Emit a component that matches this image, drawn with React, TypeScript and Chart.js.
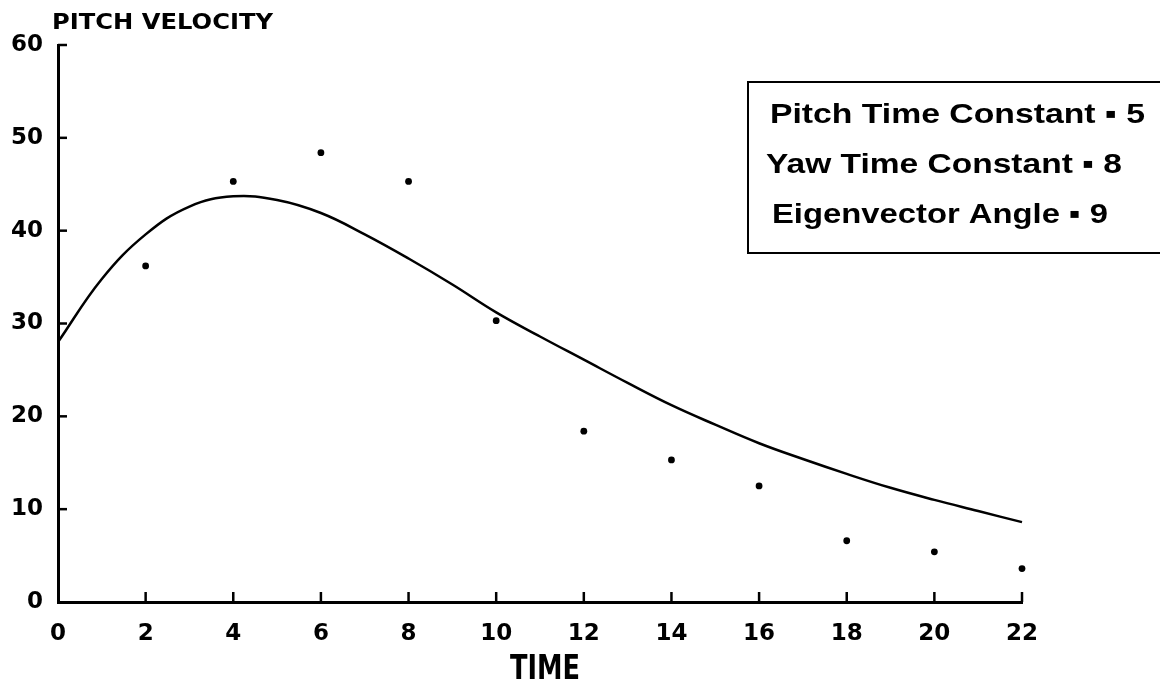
import React, { useEffect, useRef } from "react";
import { Chart, registerables } from "chart.js";

Chart.register(...registerables);

const pointTimes = [2, 4, 6, 8, 10, 12, 14, 16, 18, 20, 22];
const pointValues = [36.2, 45.3, 48.4, 45.3, 30.3, 18.4, 15.3, 12.5, 6.6, 5.4, 3.6];

const curveTimes = [0, 1, 2, 3, 4, 5, 6, 7, 8, 9, 10, 11, 12, 13, 14, 15, 16, 17, 18, 19, 20, 21, 22];
const curveValues = [28.0, 34.8, 39.6, 42.6, 43.7, 43.3, 41.9, 39.6, 37.0, 34.2, 31.2, 28.6, 26.1, 23.6, 21.2, 19.1, 17.1, 15.4, 13.8, 12.3, 11.0, 9.8, 8.6];

const xTicks = [0, 2, 4, 6, 8, 10, 12, 14, 16, 18, 20, 22];
const yTicks = [0, 10, 20, 30, 40, 50, 60];

const yAxisTitle = "PITCH VELOCITY";
const xAxisTitle = "TIME";
const legendLines = ["Pitch Time Constant \u25AA 5", "Yaw Time Constant \u25AA 8", "Eigenvector Angle \u25AA 9"];

const TICK_FONT = "'DejaVu Sans', sans-serif";
const TEXT_FONT = "'Liberation Sans', Arial, sans-serif";

function fitText(ctx: any, text: string, x: number, y: number, width: number, align: "left" | "center") {
  const w = ctx.measureText(text).width;
  const sx = width / w;
  ctx.save();
  const left = align === "left" ? x : x - width / 2;
  ctx.translate(left, y);
  ctx.scale(sx, 1);
  ctx.textAlign = "left";
  ctx.fillText(text, 0, 0);
  ctx.restore();
}

const decorPlugin = {
  id: "decor",
  afterDraw(chart: any) {
    const ctx = chart.ctx;
    const xs = chart.scales.x;
    const ys = chart.scales.y;
    ctx.save();
    ctx.strokeStyle = "#000";
    ctx.lineWidth = 2.5;
    xTicks.forEach((t) => {
      if (t === 0) return;
      const px = xs.getPixelForValue(t);
      ctx.beginPath();
      ctx.moveTo(px, ys.bottom);
      ctx.lineTo(px, ys.bottom - 10);
      ctx.stroke();
    });
    yTicks.forEach((t) => {
      if (t === 0) return;
      const py = ys.getPixelForValue(t);
      ctx.beginPath();
      ctx.moveTo(xs.left, py);
      ctx.lineTo(xs.left + 9, py);
      ctx.stroke();
    });
    ctx.fillStyle = "#000";
    ctx.textBaseline = "alphabetic";
    ctx.font = `bold 22px ${TICK_FONT}`;
    fitText(ctx, yAxisTitle, 52, 29, 221, "left");
    ctx.font = `bold 34px ${TICK_FONT}`;
    fitText(ctx, xAxisTitle, 545, 679, 70, "center");
    ctx.lineWidth = 2;
    ctx.strokeRect(748, 82, 430, 171);
    ctx.font = `bold 28px ${TEXT_FONT}`;
    fitText(ctx, legendLines[0], 770, 123, 375, "left");
    fitText(ctx, legendLines[1], 766, 173, 356, "left");
    fitText(ctx, legendLines[2], 772, 223, 336, "left");
    ctx.restore();
  },
};

export default function App() {
  const ref = useRef<HTMLCanvasElement>(null);
  useEffect(() => {
    document.body.style.margin = "0";
    const chart = new Chart(ref.current as HTMLCanvasElement, {
      type: "scatter",
      data: {
        datasets: [
          {
            type: "line",
            data: curveTimes.map((t, i) => ({ x: t, y: curveValues[i] })),
            borderColor: "#000",
            borderWidth: 2.5,
            pointRadius: 0,
            tension: 0.4,
            fill: false,
            clip: false,
          } as any,
          {
            data: pointTimes.map((t, i) => ({ x: t, y: pointValues[i] })),
            backgroundColor: "#000",
            borderColor: "#000",
            pointRadius: 3.4,
            pointBorderWidth: 0,
            clip: false,
          } as any,
        ],
      },
      options: {
        animation: false,
        responsive: false,
        maintainAspectRatio: false,
        layout: { padding: { left: 8, top: 45, right: 138, bottom: 0 } },
        plugins: { legend: { display: false }, tooltip: { enabled: false } },
        scales: {
          x: {
            type: "linear",
            min: 0,
            max: 22,
            afterBuildTicks: (s: any) => {
              s.ticks = xTicks.map((v) => ({ value: v }));
            },
            afterFit: (s: any) => {
              s.height = 86;
            },
            grid: { display: true, drawOnChartArea: false, drawTicks: false },
            border: { display: true, color: "#000", width: 3 },
            ticks: {
              color: "#000",
              padding: 18,
              font: { family: TICK_FONT, size: 23, weight: "bold" },
              maxRotation: 0,
            },
          },
          y: {
            type: "linear",
            min: 0,
            max: 60,
            afterBuildTicks: (s: any) => {
              s.ticks = yTicks.map((v) => ({ value: v }));
            },
            afterFit: (s: any) => {
              s.width = 50;
            },
            grid: { display: true, drawOnChartArea: false, drawTicks: false },
            border: { display: true, color: "#000", width: 3 },
            ticks: {
              color: "#000",
              padding: 15,
              font: { family: TICK_FONT, size: 23, weight: "bold" },
            },
          },
        },
      } as any,
      plugins: [decorPlugin],
    });
    return () => chart.destroy();
  }, []);
  return (
    <div style={{ width: 1160, height: 688, background: "#fff" }}>
      <canvas ref={ref} width={1160} height={688} />
    </div>
  );
}
